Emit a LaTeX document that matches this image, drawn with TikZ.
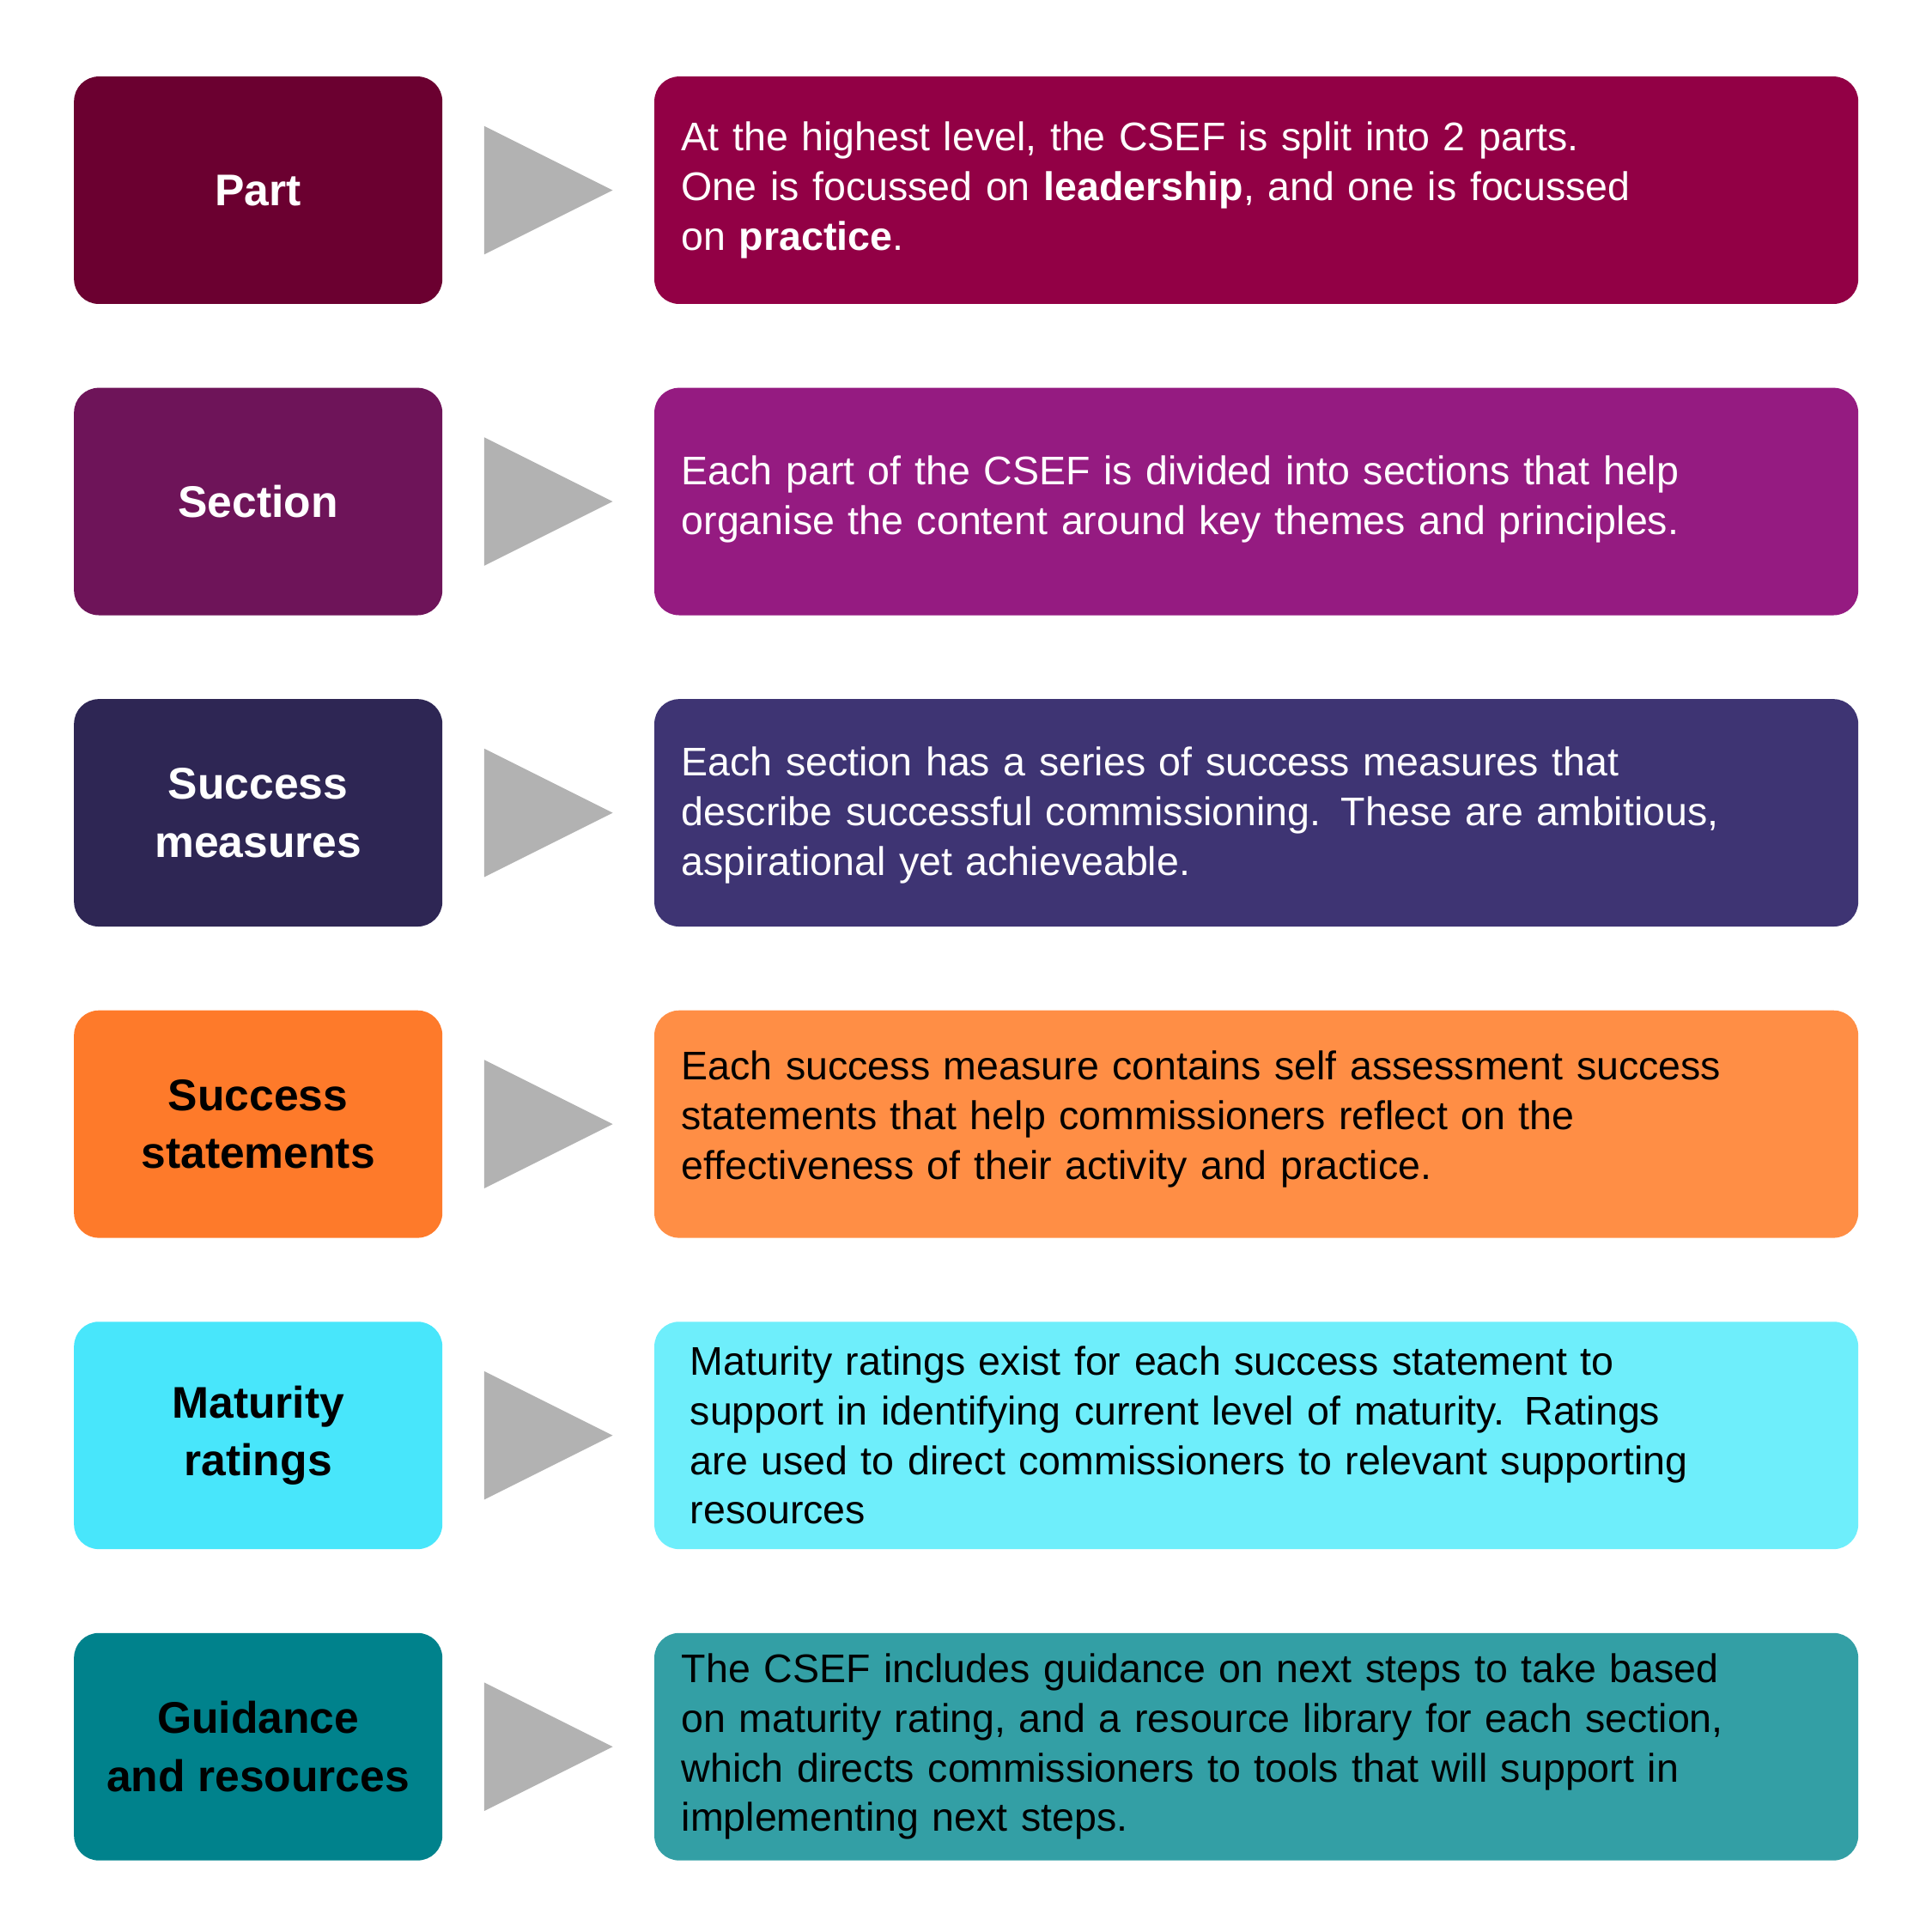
\documentclass[tikz,border=0pt]{standalone}
\usepackage{fontspec}
\setmainfont{Liberation Sans}
\begin{document}
\begin{tikzpicture}[x=0.01cm,y=-0.01cm,
 lbox/.style={rounded corners=0.2cm,minimum width=2.98cm,minimum height=1.84cm,inner sep=0pt,align=center,font=\fontsize{10.2pt}{13.4pt}\selectfont\bfseries},
 rbox/.style={rounded corners=0.2cm,minimum width=9.74cm,minimum height=1.84cm,inner sep=0pt},
 txt/.style={anchor=west,align=left,text width=9.4cm,inner sep=0pt,font=\fontsize{9.2pt}{11.4pt}\selectfont},
 tri/.style={fill=black!30,draw=none}]
\useasboundingbox (0,0) rectangle (1564,1564);
\definecolor{l1}{HTML}{6B0030}\definecolor{r1}{HTML}{920045}
\definecolor{l2}{HTML}{6E1459}\definecolor{r2}{HTML}{951B81}
\definecolor{l3}{HTML}{2E2654}\definecolor{r3}{HTML}{3E3473}
\definecolor{l4}{HTML}{FE7A2A}\definecolor{r4}{HTML}{FF8E45}
\definecolor{l5}{HTML}{48E6FB}\definecolor{r5}{HTML}{6EEEFB}
\definecolor{l6}{HTML}{00828C}\definecolor{r6}{HTML}{339FA5}
\foreach \i/\y/\tc in {1/154/white,2/406/white,3/658/white,4/910/black,5/1162/black,6/1414/black}{
 \node[lbox,fill=l\i] (L\i) at (209,\y) {};
 \node[rbox,fill=r\i] (R\i) at (1017,\y) {};
 \fill[tri] (392,\y-52) -- (496,\y) -- (392,\y+52) -- cycle;
}
\node[lbox,text=white] (t1) at (209,154) {Part};
\node[lbox,text=white] (t2) at (209,406) {Section};
\node[lbox,text=white] (t3) at (209,658) {Success\\measures};
\node[lbox,text=black] (t4) at (209,910) {Success\\statements};
\node[lbox,text=black] (t5) at (209,1162) {Maturity\\ratings};
\node[lbox,text=black] (t6) at (209,1414) {Guidance\\and resources};
\node[txt,text=white] (d1) at (551,154) {At the highest level, the CSEF is split into 2 parts.\\One is focussed on \textbf{leadership}, and one is focussed\\on \textbf{practice}.};
\node[txt,text=white] (d2) at (551,404) {Each part of the CSEF is divided into sections that help\\organise the content around key themes and principles.};
\node[txt,text=white] (d3) at (551,660) {Each section has a series of success measures that\\describe successful commissioning. These are ambitious,\\aspirational yet achieveable.};
\node[txt,text=black] (d4) at (551,906) {Each success measure contains self assessment success\\statements that help commissioners reflect on the\\effectiveness of their activity and practice.};
\node[txt,text=black] (d5) at (558,1162) {Maturity ratings exist for each success statement to\\support in identifying current level of maturity. Ratings\\are used to direct commissioners to relevant supporting\\resources};
\node[txt,text=black] (d6) at (551,1414) {The CSEF includes guidance on next steps to take based\\on maturity rating, and a resource library for each section,\\which directs commissioners to tools that will support in\\implementing next steps.};
\end{tikzpicture}
\end{document}
